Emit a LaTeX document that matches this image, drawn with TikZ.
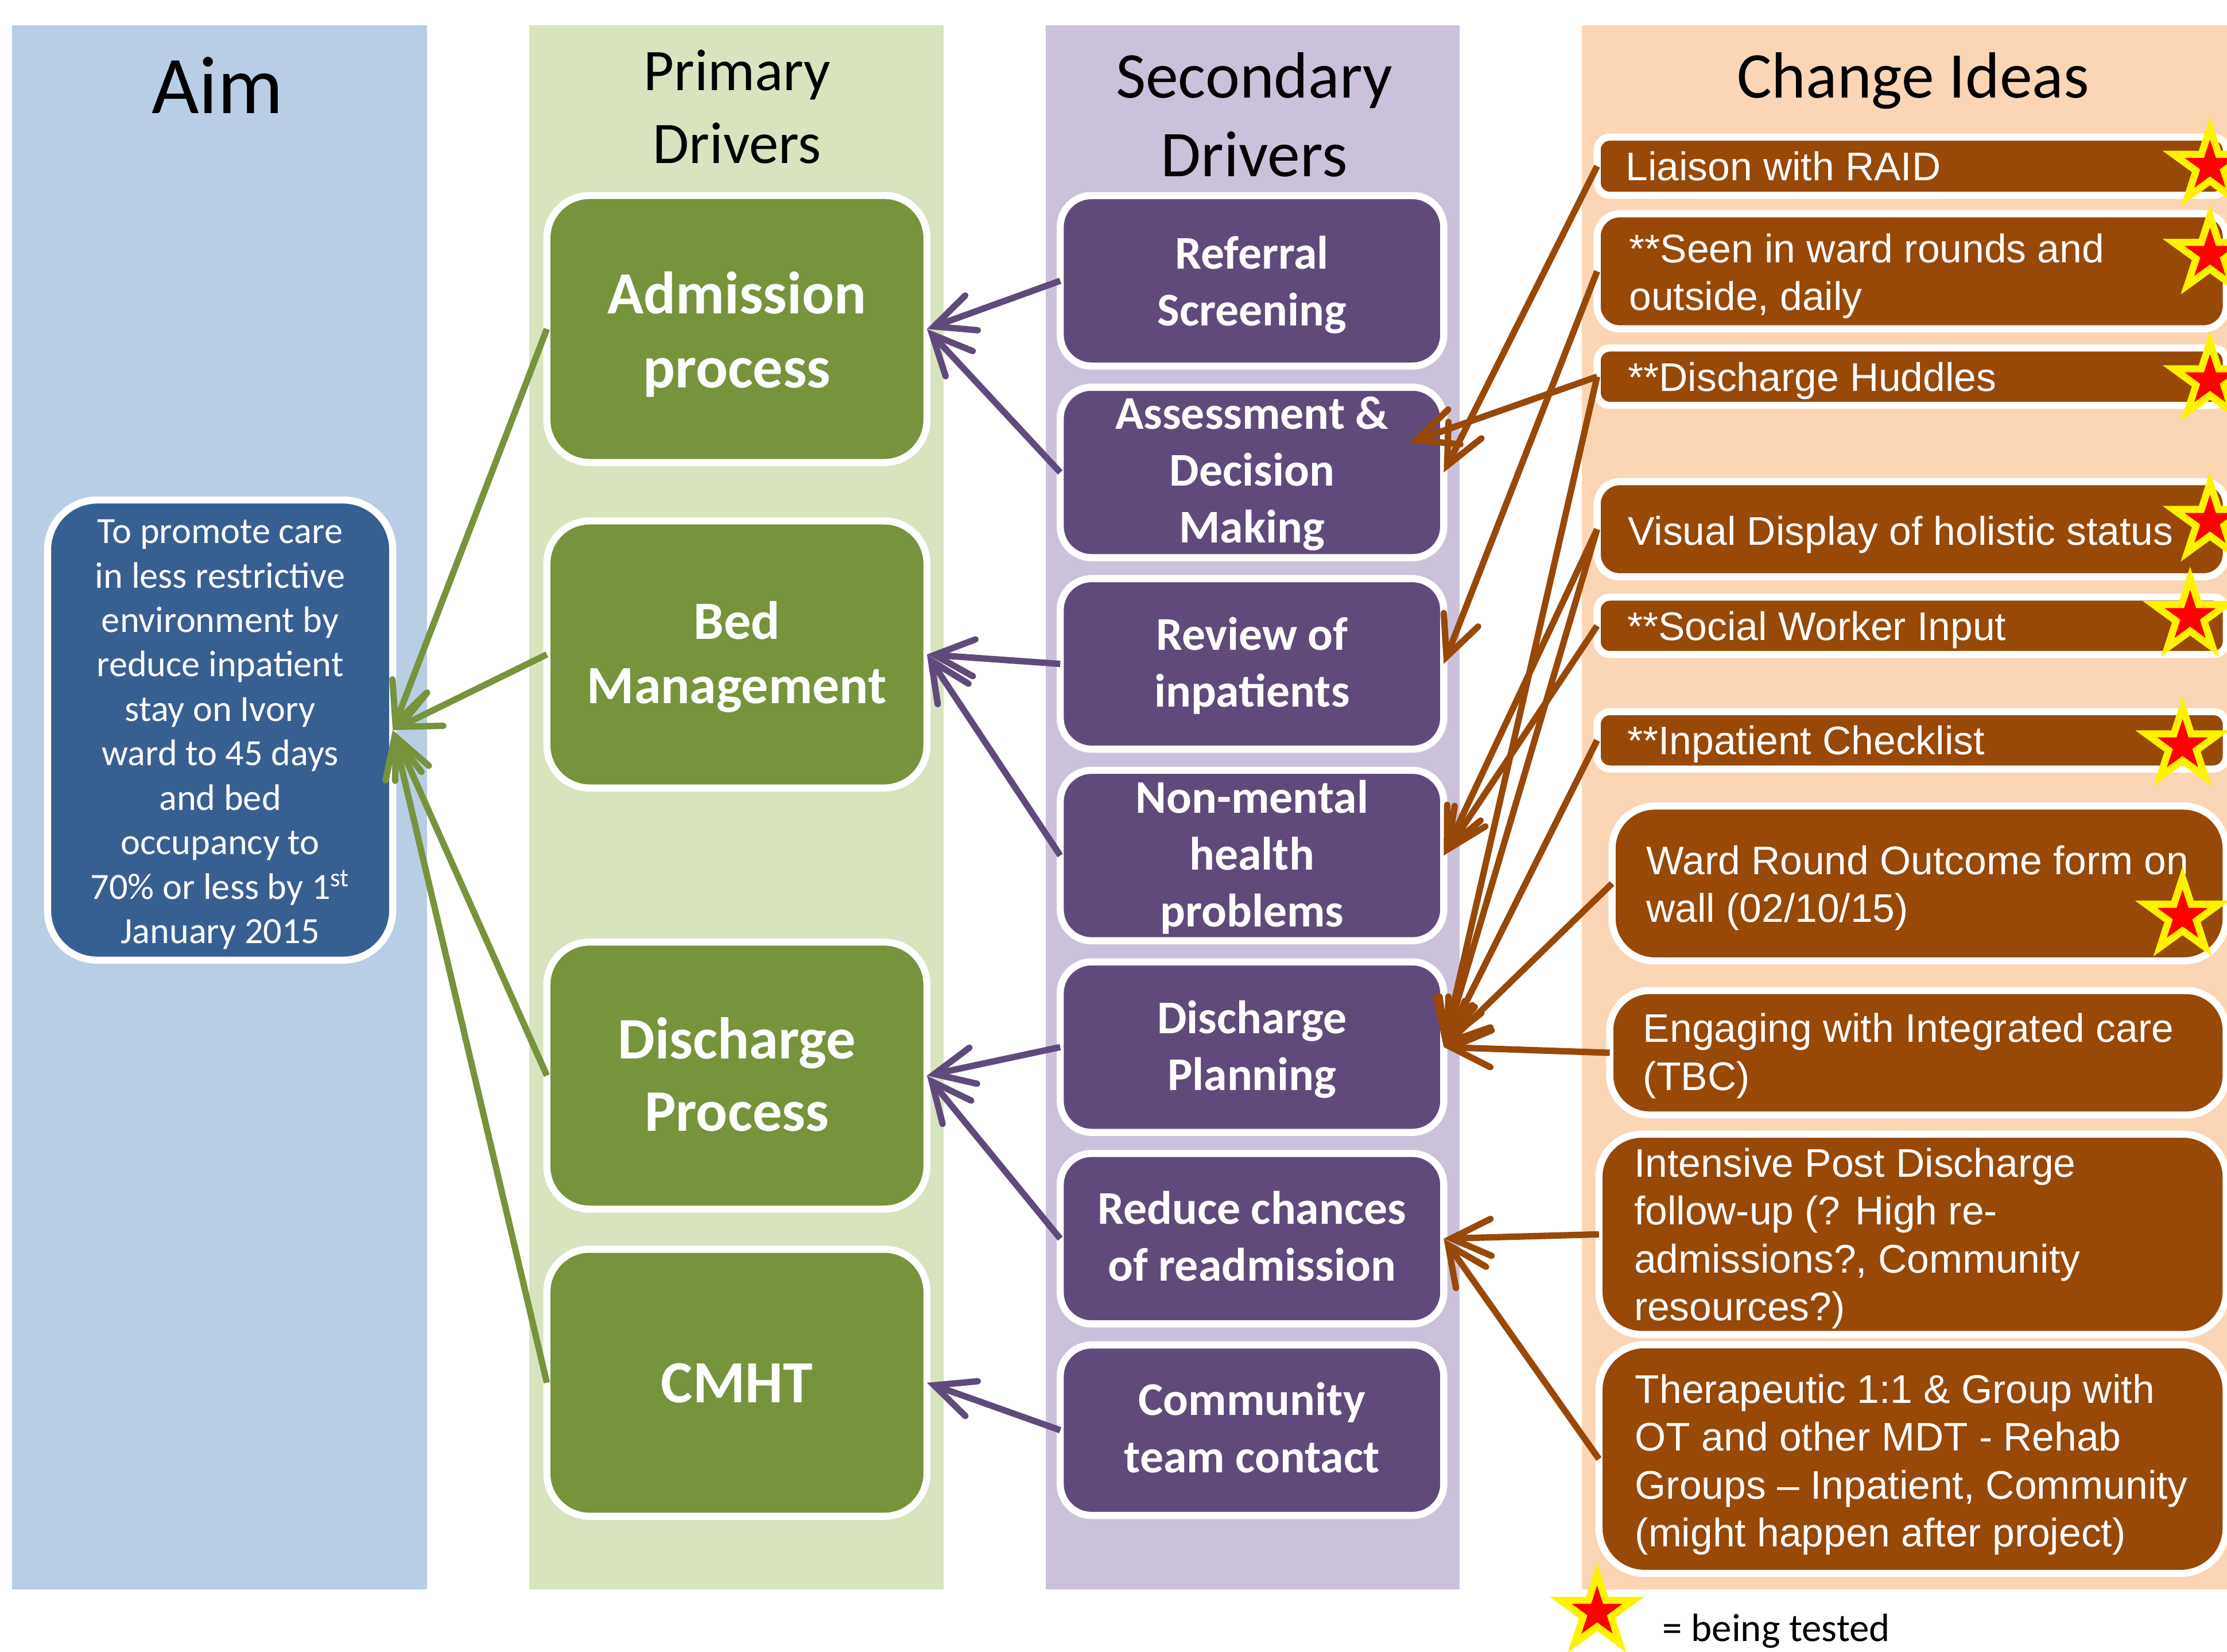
\documentclass[tikz,border=0pt]{standalone}
\usepackage{fontspec}
\setmainfont{Carlito}
\newfontfamily\arialf{Liberation Sans}
\usetikzlibrary{arrows.meta,shapes.geometric,calc}
\definecolor{aimbg}{HTML}{B9CDE5}
\definecolor{primbg}{HTML}{D7E4BD}
\definecolor{secbg}{HTML}{CCC1DA}
\definecolor{chgbg}{HTML}{FCD5B5}
\definecolor{aimblue}{HTML}{376092}
\definecolor{olive}{HTML}{77933C}
\definecolor{plum}{HTML}{604A7B}
\definecolor{rust}{HTML}{984807}
\begin{document}
\begin{tikzpicture}[x=0.25mm, y=-0.25mm,
  boxbase/.style={rectangle, draw=white, line width=1.25mm, inner sep=0pt, outer sep=0pt},
  aimbox/.style={boxbase, fill=aimblue, rounded corners=8.75mm, minimum width=60.75mm, minimum height=81mm},
  pbox/.style={boxbase, fill=olive, rounded corners=7.5mm, minimum width=66.9mm, minimum height=47mm},
  sbox/.style={boxbase, fill=plum, rounded corners=5.5mm, minimum width=67.5mm, minimum height=30mm},
  cbox/.style={boxbase, fill=rust},
  ttl/.style={anchor=base, align=center, inner sep=0pt, text=black},
  ptxt/.style={anchor=base, align=center, inner sep=0pt, text=white},
  stxt/.style={anchor=base, align=center, inner sep=0pt, text=white, font=\fontsize{23.5}{28.5}\selectfont\bfseries},
  ctxt/.style={anchor=base west, align=left, inner sep=0pt, text=white, font=\arialf\fontsize{20}{24}\selectfont},
  conn/.style={line width=1.125mm, -{Straight Barb[length=7mm, width=6.5mm, line cap=round]}},
  gconn/.style={conn, draw=olive},
  pconn/.style={conn, draw=plum},
  bconn/.style={conn, draw=rust},
  tstar/.style={star, star points=5, star point ratio=2.618, minimum size=13.5mm, inner sep=0pt, draw=yellow, fill=red, line width=1.25mm}
]
\useasboundingbox (0,0) rectangle (1568,1163);
\fill[white] (0,0) rectangle (1568,1163);
% column backgrounds
\fill[aimbg] (8.5,17.8) rectangle (300.6,1118.9);
\fill[primbg] (372.6,17.8) rectangle (664.2,1118.9);
\fill[secbg] (736.5,17.8) rectangle (1027.6,1118.9);
\fill[chgbg] (1113.8,17.8) rectangle (1568,1118.9);
% titles (multi-line nodes: base = last line)
\node[ttl, font=\fontsize{41}{49}\selectfont] (taim) at (153,79.8) {Aim};
\node[ttl, font=\fontsize{29.5}{36.4}\selectfont] (tprim) at (519,115) {Primary\\Drivers};
\node[ttl, font=\fontsize{32.7}{39.5}\selectfont] (tsec) at (883,124.3) {Secondary\\Drivers};
\node[ttl, font=\fontsize{32.7}{39.5}\selectfont] (tchg) at (1347,68.7) {Change Ideas};
% aim box
\node[aimbox] (aim) at (155,514) {};
\node[ptxt, font=\fontsize{18.5}{22.26}\selectfont] (taimtxt) at (155,664.2) {To promote care\\in less restrictive\\environment by\\reduce inpatient\\stay on Ivory\\ward to 45 days\\and bed\\occupancy to\\70\% or less by 1\textsuperscript{st}\\January 2015};
% primary drivers
\node[pbox] (adm) at (518.85,231.6) {};
\node[pbox] (bed) at (518.85,460.75) {};
\node[pbox] (dis) at (518.85,757.25) {};
\node[pbox] (cmht) at (518.85,973.5) {};
\node[ptxt, font=\fontsize{30}{37}\selectfont\bfseries] (tadm) at (518.85,272.8) {Admission\\process};
\node[ptxt, font=\fontsize{27}{32.3}\selectfont\bfseries] (tbed) at (518.85,495.4) {Bed\\Management};
\node[ptxt, font=\fontsize{29.5}{36.4}\selectfont\bfseries] (tdis) at (518.85,796.4) {Discharge\\Process};
\node[ptxt, font=\fontsize{30}{36}\selectfont\bfseries] (tcmht) at (518.85,987.6) {CMHT};
% secondary drivers
\node[sbox] (ref) at (881.5,197.7) {};
\node[sbox] (ass) at (881.5,332.6) {};
\node[sbox] (rev) at (881.5,467.4) {};
\node[sbox] (non) at (881.5,602.3) {};
\node[sbox] (dpl) at (881.5,737.2) {};
\node[sbox] (red) at (881.5,872.05) {};
\node[sbox] (com) at (881.5,1006.9) {};
\node[stxt] (tref) at (881.5,229.3) {Referral\\Screening};
\node[stxt] (tass) at (881.5,382.2) {Assessment \&\\Decision\\Making};
\node[stxt] (trev) at (881.5,497.8) {Review of\\inpatients};
\node[stxt] (tnon) at (881.5,652.4) {Non-mental\\health\\problems};
\node[stxt] (tdpl) at (881.5,767.5) {Discharge\\Planning};
\node[stxt] (tred) at (881.5,901.8) {Reduce chances\\of readmission};
\node[stxt] (tcom) at (881.5,1036.6) {Community\\team contact};
% change ideas
\node[cbox, rounded corners=2.25mm, minimum width=110.75mm, minimum height=10.25mm] (lia) at (1346,117) {};
\node[cbox, rounded corners=4mm, minimum width=110.75mm, minimum height=20.25mm] (seen) at (1346,191) {};
\node[cbox, rounded corners=2.25mm, minimum width=110.75mm, minimum height=10.1mm] (hud) at (1346,265.2) {};
\node[cbox, rounded corners=4mm, minimum width=110.75mm, minimum height=16.75mm] (vis) at (1346,372.6) {};
\node[cbox, rounded corners=2.25mm, minimum width=110.75mm, minimum height=10.1mm] (soc) at (1346,440.6) {};
\node[cbox, rounded corners=2.25mm, minimum width=110.75mm, minimum height=10.1mm] (chk) at (1346,521.2) {};
\node[cbox, rounded corners=7.5mm, minimum width=108.1mm, minimum height=27.25mm] (ward) at (1351.2,622) {};
\node[cbox, rounded corners=7mm, minimum width=108.5mm, minimum height=21.9mm] (eng) at (1350.4,741.2) {};
\node[cbox, rounded corners=7.5mm, minimum width=110.4mm, minimum height=35.25mm] (int) at (1346.6,869) {};
\node[cbox, rounded corners=8mm, minimum width=110.4mm, minimum height=40.25mm] (ther) at (1346.6,1027.2) {};
\node[ctxt] (tlia) at (1144.4,127.2) {Liaison with RAID};
\node[ctxt] (tseen) at (1146.8,218.6) {**Seen in ward rounds and\\outside, daily};
\node[ctxt] (thud) at (1146,275.6) {**Discharge Huddles};
\node[ctxt] (tvis) at (1146,383.6) {Visual Display of holistic status};
\node[ctxt] (tsoc) at (1145.5,450.9) {**Social Worker Input};
\node[ctxt] (tchk) at (1145.5,531.4) {**Inpatient Checklist};
\node[ctxt] (tward) at (1158.9,649.4) {Ward Round Outcome form on\\wall (02/10/15)};
\node[ctxt] (teng) at (1156.7,767.5) {Engaging with Integrated care\\(TBC)};
\node[ctxt] (tint) at (1150.3,929.7) {Intensive Post Discharge\\follow-up (? High re-\\admissions?, Community\\resources?)};
\node[ctxt] (tther) at (1151,1089) {Therapeutic 1:1 \& Group with\\OT and other MDT - Rehab\\Groups \textendash{} Inpatient, Community\\(might happen after project)};
% connectors: primary -> aim
\draw[gconn] (adm.west) -- (aim.east);
\draw[gconn] (bed.west) -- (aim.east);
\draw[gconn] (dis.west) -- (aim.east);
\draw[gconn] (cmht.west) -- (aim.east);
% secondary -> primary
\draw[pconn] (ref.west) -- (adm.east);
\draw[pconn] (ass.west) -- (adm.east);
\draw[pconn] (rev.west) -- (bed.east);
\draw[pconn] (non.west) -- (bed.east);
\draw[pconn] (dpl.west) -- (dis.east);
\draw[pconn] (red.west) -- (dis.east);
\draw[pconn] (com.west) -- (cmht.east);
% change ideas -> secondary
\coordinate (hudtip) at ($(ass.center)+(111,-21)$);
\draw[bconn] (lia.west) -- (ass.east);
\draw[bconn] (seen.west) -- (rev.east);
\draw[bconn] (hud.west) -- (hudtip);
\draw[bconn] (hud.west) -- (dpl.east);
\draw[bconn] (vis.west) -- (non.east);
\draw[bconn] (vis.west) -- (dpl.east);
\draw[bconn] (soc.west) -- (non.east);
\draw[bconn] (chk.west) -- (dpl.east);
\draw[bconn] (ward.west) -- (dpl.east);
\draw[bconn] (eng.west) -- (dpl.east);
\draw[bconn] (int.west) -- (red.east);
\draw[bconn] (ther.west) -- (red.east);
% stars
\node[tstar] (s1) at (1556,117) {};
\node[tstar] (s2) at (1556,179) {};
\node[tstar] (s3) at (1556,268) {};
\node[tstar] (s4) at (1556,367) {};
\node[tstar] (s5) at (1542,434) {};
\node[tstar] (s6) at (1536.7,525) {};
\node[tstar] (s7) at (1536.7,645) {};
\node[tstar] (s8) at (1124.5,1135) {};
\node[anchor=base west, inner sep=0pt, font=\fontsize{19.8}{22}\selectfont] (tleg) at (1170.4,1155.6) {= being tested};
\end{tikzpicture}
\end{document}
